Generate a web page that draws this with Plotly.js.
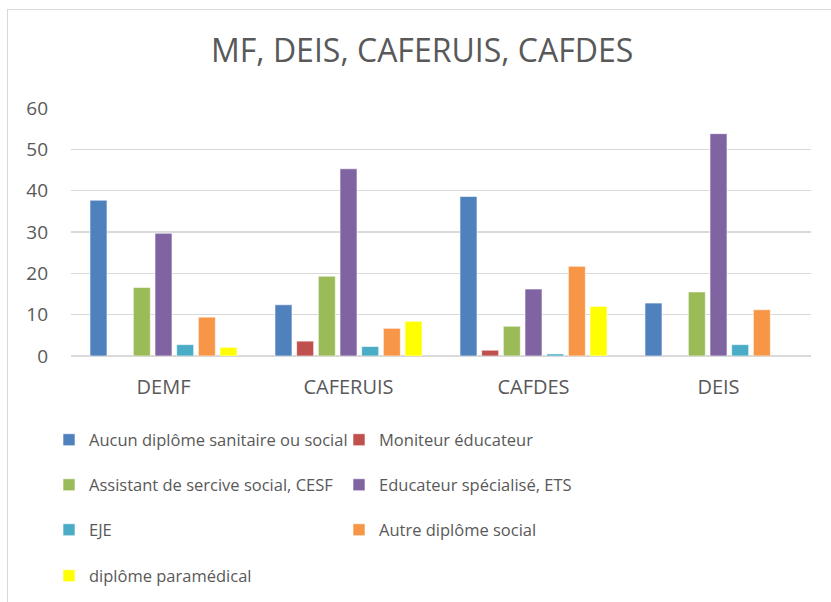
<!DOCTYPE html>
<html>
<head>
<meta charset="utf-8">
<script src="https://cdn.plot.ly/plotly-3.0.1.min.js"></script>
<style>
  html, body { margin: 0; padding: 0; background: #fff; }
  #chart { width: 831px; height: 602px; position: absolute; left: 0; top: 0; }
  #frame { position: absolute; left: 7px; top: 9px; width: 824px; height: 593px;
           border-left: 1px solid #d9d9d9; border-top: 1px solid #d9d9d9; pointer-events: none; }
</style>
</head>
<body>
<div id="chart"></div>
<div id="frame"></div>
<script>
const categories = ["DEMF", "CAFERUIS", "CAFDES", "DEIS"];
const seriesNames = [
  "Aucun diplôme sanitaire ou social",
  "Moniteur éducateur",
  "Assistant de sercive social, CESF",
  "Educateur spécialisé, ETS",
  "EJE",
  "Autre diplôme social",
  "diplôme paramédical"
];
const aucunDiplome   = [37.7, 12.4, 38.6, 12.8];
const moniteurEduc   = [null, 3.6, 1.4, null];
const assistantCESF  = [16.6, 19.3, 7.2, 15.5];
const educSpecETS    = [29.7, 45.3, 16.2, 53.8];
const eje            = [2.75, 2.3, 0.5, 2.75];
const autreSocial    = [9.4, 6.7, 21.7, 11.2];
const paramedical    = [2.1, 8.4, 12.0, null];
const seriesValues = [aucunDiplome, moniteurEduc, assistantCESF, educSpecETS, eje, autreSocial, paramedical];
const colors = ["#4F81BD", "#C0504D", "#9BBB59", "#8064A2", "#4BACC6", "#F79646", "#FFFF00"];
const yTicks = [0, 10, 20, 30, 40, 50, 60];

const FONT = "Open Sans, Lato, sans-serif";
const GREY = "#595959";

const legendKey = i => (i === 0 ? "legend" : "legend" + (i + 1));

const traces = seriesNames.map((name, i) => ({
  type: "bar",
  name: name,
  x: categories,
  y: seriesValues[i],
  marker: { color: colors[i], line: { color: "rgba(255,255,255,0.6)", width: 1 } },
  legend: legendKey(i),
  hoverinfo: "x+y+name"
}));

// legend grid: two columns, four rows (pixel positions of text start / row centre)
const colTextX = [89, 379];
const rowY = [440, 485, 530, 576];
function legendCfg(i) {
  const row = Math.floor(i / 2), col = i % 2;
  return {
    orientation: "h",
    xref: "container", yref: "container",
    x: (colTextX[col] - 40) / 831, xanchor: "left",
    y: 1 - rowY[row] / 602, yanchor: "middle",
    font: { family: FONT, size: 16.5, color: GREY },
    bgcolor: "rgba(0,0,0,0)"
  };
}

const layout = {
  width: 831, height: 602,
  margin: { l: 71, r: 20, t: 108, b: 246 },
  paper_bgcolor: "#fff", plot_bgcolor: "#fff",
  title: {
    text: "MF, DEIS, CAFERUIS, CAFDES",
    font: { family: FONT, size: 32, color: GREY },
    x: 0.508, xanchor: "center", xref: "container",
    y: 1 - 51 / 602, yanchor: "middle", yref: "container"
  },
  barmode: "group",
  bargap: 0.18,
  bargroupgap: 0.215,
  xaxis: {
    type: "category",
    showgrid: false, zeroline: false, showline: false, ticks: "",
    tickfont: { family: FONT, size: 20, color: GREY },
    ticklabelstandoff: 17
  },
  yaxis: {
    range: [0, 60], tickvals: yTicks, ticktext: yTicks.map(String),
    showgrid: true, gridcolor: "#d9d9d9", gridwidth: 1.3,
    zeroline: true, zerolinecolor: "#d9d9d9", zerolinewidth: 1.3,
    showline: false, ticks: "",
    tickfont: { family: FONT, size: 19, color: GREY },
    ticklabelstandoff: 22
  },
  showlegend: true
};
seriesNames.forEach((_, i) => { layout[legendKey(i)] = legendCfg(i); });

Plotly.newPlot("chart", traces, layout, { displayModeBar: false, staticPlot: true });
</script>
</body>
</html>
